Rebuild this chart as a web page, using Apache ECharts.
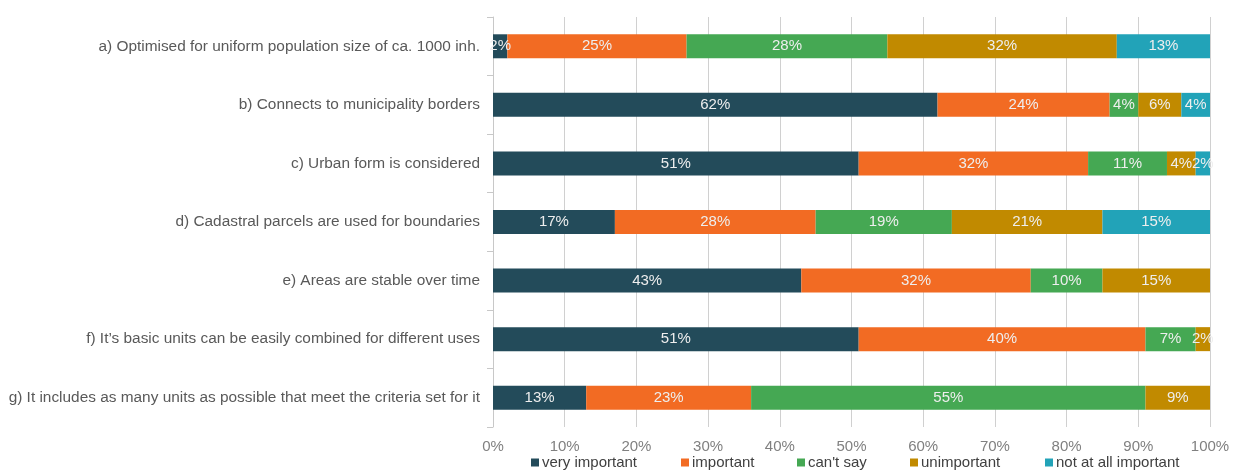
<!DOCTYPE html>
<html><head><meta charset="utf-8">
<script src="https://cdn.jsdelivr.net/npm/echarts@6/dist/echarts.min.js"></script>
<style>html,body{margin:0;padding:0;background:#fff}#c{width:1233px;height:472px}</style>
</head><body><div id="c"></div>
<script>
const categories = [
  "a) Optimised for uniform population size of ca. 1000 inh.",
  "b) Connects to municipality borders",
  "c) Urban form is considered",
  "d) Cadastral parcels are used for boundaries",
  "e) Areas are stable over time",
  "f) It\u2019s basic units can be easily combined for different uses",
  "g) It includes as many units as possible that meet the criteria set for it"
];
const seriesNames = ["very important","important","can't say","unimportant","not at all important"];
const veryImportant = [2,62,51,17,43,51,13];
const important = [25,24,32,28,32,40,23];
const cantSay = [28,4,11,19,10,7,55];
const unimportant = [32,6,4,21,15,2,9];
const notAtAll = [13,4,2,15,0,0,0];
const colors = ["#234B5A","#F26B23","#45A853","#C18A00","#22A3B8"];
const values = [veryImportant, important, cantSay, unimportant, notAtAll];
const legendLeft = [531, 681, 797, 910, 1045];

const chart = echarts.init(document.getElementById('c'));
chart.setOption({
  animation:false,
  textStyle:{fontFamily:"Liberation Sans, Arial, sans-serif"},
  grid:{left:493,right:23,top:17,bottom:45,containLabel:false},
  legend: seriesNames.map((n,i)=>({top:455,left:legendLeft[i],padding:0,itemWidth:8,itemHeight:8,icon:'rect',
    textStyle:{color:'#404040',fontSize:15,padding:[0,0,0,-2]}, data:[n]})),
  xAxis:{type:'value',min:0,max:100,interval:10,
    axisLabel:{formatter:'{value}%',color:'#808080',fontSize:15,margin:12},
    splitLine:{lineStyle:{color:'#d0d0d0'}},axisLine:{show:false},axisTick:{show:false}},
  yAxis:{type:'category',inverse:true,data:categories,
    axisLabel:{color:'#595959',fontSize:15.4,margin:13},
    axisLine:{lineStyle:{color:'#c8c8c8'}},
    axisTick:{show:true,length:6,lineStyle:{color:'#c8c8c8'}}},
  series: seriesNames.map((n,i)=>({
    name:n,type:'bar',stack:'t',barWidth:24,
    itemStyle:{color:colors[i]},
    label:{show:true,position:'inside',color:'#eeeeee',fontSize:15,
      formatter:p=>p.value>0?p.value+'%':''},
    data:values[i]
  }))
});
</script></body></html>
